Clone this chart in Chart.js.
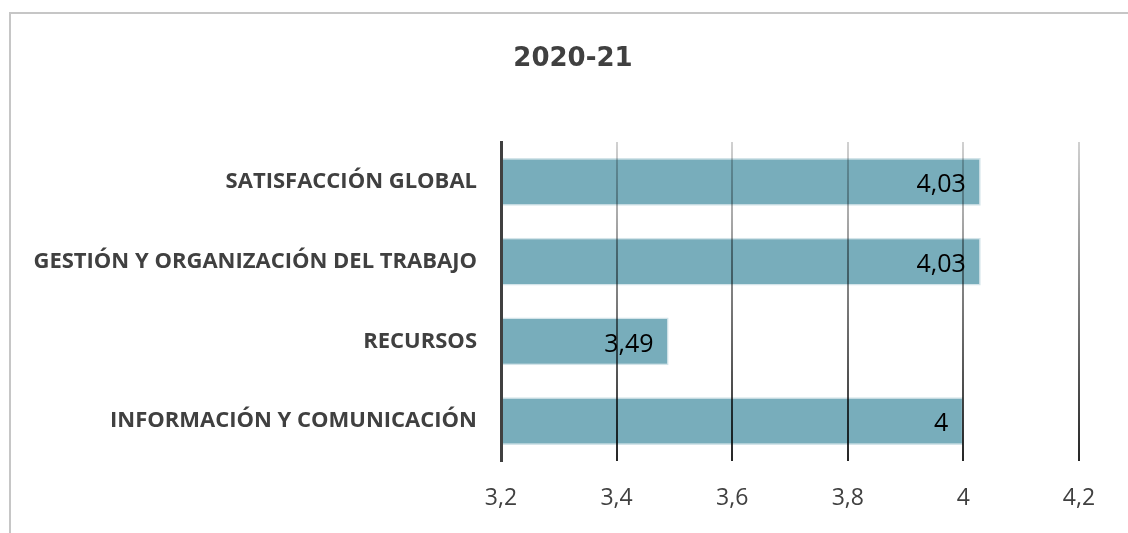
<!DOCTYPE html>
<html>
<head>
<meta charset="utf-8">
<script src="https://cdn.jsdelivr.net/npm/chart.js@4"></script>
<style>
  body { margin: 0; background: #fff; }
  #wrap { position: relative; width: 1128px; height: 533px; overflow: hidden; }
  #frame { position: absolute; left: 9px; top: 12px; width: 1200px; height: 600px;
           border-left: 2px solid #c6c6c6; border-top: 2px solid #c6c6c6; }
  canvas { position: absolute; left: 0; top: 0; }
</style>
</head>
<body>
<div id="wrap">
  <div id="frame"></div>
  <canvas id="chart" width="1128" height="533"></canvas>
</div>
<script>
const chartTitle = '2020-21';
const categories = [
  'SATISFACCIÓN GLOBAL',
  'GESTIÓN Y ORGANIZACIÓN DEL TRABAJO',
  'RECURSOS',
  'INFORMACIÓN Y COMUNICACIÓN'
];
const scores = [4.03, 4.03, 3.49, 4];
const axisMin = 3.2;
const axisMax = 4.2;
const axisStep = 0.2;

function comma(v) {
  return String(Math.round(v * 100) / 100).replace('.', ',');
}

// grid lines fade from light at top to dark at bottom
function gridGradient(ctx) {
  const area = ctx.chart.chartArea;
  if (!area) return 'rgba(0,0,0,0.4)';
  const g = ctx.chart.ctx.createLinearGradient(0, area.top, 0, area.bottom);
  g.addColorStop(0, 'rgba(0,0,0,0.18)');
  g.addColorStop(1, 'rgba(0,0,0,0.85)');
  return g;
}

// title centred like the original, plus value labels inside each bar end
const extraText = {
  id: 'extraText',
  afterDraw(chart) {
    const ctx = chart.ctx;
    ctx.save();
    ctx.font = 'bold 26px "DejaVu Sans"';
    ctx.fillStyle = '#404040';
    ctx.textAlign = 'center';
    ctx.textBaseline = 'middle';
    ctx.fillText(chartTitle, 573, 59);

    ctx.font = '25px "Open Sans"';
    ctx.fillStyle = '#000';
    ctx.textAlign = 'right';
    const meta = chart.getDatasetMeta(0);
    meta.data.forEach((bar, i) => {
      ctx.fillText(comma(scores[i]), bar.x - 15, bar.y + 3);
    });
    ctx.restore();
  }
};

const ctx = document.getElementById('chart').getContext('2d');
new Chart(ctx, {
  type: 'bar',
  data: {
    labels: categories,
    datasets: [{
      data: scores,
      backgroundColor: '#78adbb',
      borderColor: '#d3e4e9',
      borderWidth: 1.5,
      borderSkipped: false,
      categoryPercentage: 0.6,
      barPercentage: 1
    }]
  },
  options: {
    indexAxis: 'y',
    responsive: false,
    animation: false,
    layout: { padding: { left: 0, right: 49, top: 142, bottom: 0 } },
    plugins: {
      legend: { display: false },
      tooltip: { enabled: false },
      title: { display: false }
    },
    scales: {
      x: {
        min: axisMin,
        max: axisMax,
        z: 1,
        ticks: {
          stepSize: axisStep,
          color: '#404040',
          padding: 24,
          font: { family: '"Open Sans"', size: 23 },
          callback: v => comma(v)
        },
        grid: { color: gridGradient, lineWidth: 2, drawTicks: false, z: 1 },
        border: { display: false },
        afterFit(scale) { scale.height = 72; }
      },
      y: {
        z: 2,
        ticks: {
          color: '#404040',
          padding: 24,
          font: { family: '"Open Sans"', size: 22, weight: 'bold' }
        },
        grid: { display: false, drawTicks: false },
        border: { display: true, color: '#404040', width: 3, z: 2 },
        afterFit(scale) { scale.width = 501; }
      }
    }
  },
  plugins: [extraText]
});
</script>
</body>
</html>
